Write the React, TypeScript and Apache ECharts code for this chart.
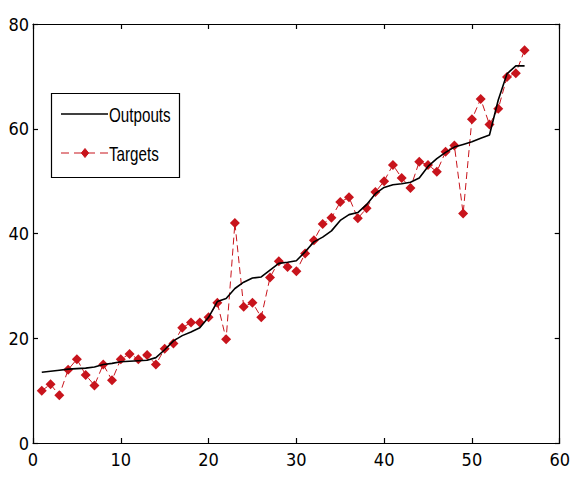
import React, { useEffect, useRef } from "react";
import * as echarts from "echarts";

const xs = Array.from({ length: 56 }, (_, i) => i + 1);
const outputs = [
  13.5, 13.7, 13.9, 14.1, 14.2, 14.3, 14.5, 15.0, 15.2, 15.5,
  15.6, 15.7, 15.8, 16.3, 17.8, 19.5, 20.5, 21.2, 22.0, 24.0,
  27.0, 27.6, 29.5, 30.7, 31.5, 31.7, 33.0, 34.3, 34.5, 34.8,
  36.5, 38.4, 39.3, 40.5, 42.5, 43.6, 44.0, 45.5, 47.6, 48.8,
  49.3, 49.5, 49.8, 50.6, 52.8, 54.3, 55.5, 56.5, 57.0, 57.5,
  58.2, 58.8, 65.5, 70.5, 72.0, 72.0,
];
const targets = [
  10, 11.2, 9.1, 14, 16, 13, 11, 15, 12, 16,
  17, 16, 16.8, 15, 18, 19, 22, 23, 23, 24,
  26.8, 19.8, 42.0, 26, 26.8, 24, 31.6, 34.7, 33.6, 32.8,
  36.2, 38.7, 41.8, 43.0, 46.0, 46.9, 42.9, 44.8, 47.9, 50.0,
  53.1, 50.6, 48.7, 53.7, 53.1, 51.8, 55.6, 56.8, 43.8, 61.8,
  65.7, 60.8, 63.8, 69.9, 70.6, 75.0,
];
const seriesNames = ["Outpouts", "Targets"];

const FONT = "'DejaVu Sans Condensed', 'Liberation Sans Narrow', 'Liberation Sans', sans-serif";
const RED = "#c8141c";

export default function App() {
  const ref = useRef<HTMLDivElement>(null);
  useEffect(() => {
    if (!ref.current) return;
    const chart = echarts.init(ref.current, undefined, { renderer: "svg" });
    const axisLine = { show: true, onZero: false, lineStyle: { color: "#000", width: 1.2 } };
    const tickIn = { show: true, inside: true, length: 5, lineStyle: { color: "#000", width: 1.2 } };
    const label = { color: "#000", fontFamily: FONT, fontSize: 18 };
    const legendText = {
      fill: "#000",
      fontFamily: "'Liberation Sans', sans-serif",
      fontSize: 20,
      verticalAlign: "middle",
      align: "left",
    };
    const diamond = (cx: number, cy: number, r: number) => [
      [cx, cy - r], [cx + r * 0.8, cy], [cx, cy + r], [cx - r * 0.8, cy],
    ];
    chart.setOption({
      animation: false,
      backgroundColor: "#fff",
      grid: { left: 33, right: 8, top: 24, bottom: 34, containLabel: false },
      xAxis: [
        {
          type: "value", min: 0, max: 60, interval: 10, position: "bottom",
          axisLine, axisTick: tickIn, splitLine: { show: false },
          axisLabel: { ...label, margin: 7 },
        },
        {
          type: "value", min: 0, max: 60, interval: 10, position: "top",
          axisLine, axisTick: tickIn, splitLine: { show: false },
          axisLabel: { show: false },
        },
      ],
      yAxis: [
        {
          type: "value", min: 0, max: 80, interval: 20, position: "left",
          axisLine, axisTick: tickIn, splitLine: { show: false },
          axisLabel: { ...label, margin: 4 },
        },
        {
          type: "value", min: 0, max: 80, interval: 20, position: "right",
          axisLine, axisTick: tickIn, splitLine: { show: false },
          axisLabel: { show: false },
        },
      ],
      graphic: [
        {
          type: "group",
          z: 100,
          children: [
            {
              type: "rect",
              shape: { x: 51.5, y: 93.5, width: 128, height: 84 },
              style: { fill: "#fff", stroke: "#000", lineWidth: 1.2 },
            },
            {
              type: "line",
              shape: { x1: 61, y1: 114, x2: 108, y2: 114 },
              style: { stroke: "#000", lineWidth: 1.6 },
            },
            {
              type: "text",
              x: 109, y: 115, scaleX: 0.76,
              style: { ...legendText, text: seriesNames[0] },
            },
            {
              type: "line",
              shape: { x1: 61, y1: 153, x2: 108, y2: 153 },
              style: { stroke: RED, lineWidth: 1.2, lineDash: [8, 5] },
            },
            {
              type: "polygon",
              shape: { points: diamond(85, 153, 4.5) },
              style: { fill: RED, stroke: RED },
            },
            {
              type: "text",
              x: 109, y: 154, scaleX: 0.76,
              style: { ...legendText, text: seriesNames[1] },
            },
          ],
        },
      ],
      series: [
        {
          name: seriesNames[0],
          type: "line",
          data: xs.map((x, i) => [x, outputs[i]]),
          showSymbol: false,
          symbol: "none",
          lineStyle: { color: "#000", width: 1.6 },
          itemStyle: { color: "#000" },
          z: 3,
        },
        {
          name: seriesNames[1],
          type: "line",
          data: xs.map((x, i) => [x, targets[i]]),
          symbol: "diamond",
          symbolSize: 10,
          lineStyle: { color: RED, width: 1, type: [7, 4] },
          itemStyle: { color: RED },
          z: 2,
        },
      ],
    });
    return () => chart.dispose();
  }, []);
  return (
    <div
      ref={ref}
      style={{ position: "fixed", left: 0, top: 0, width: 573, height: 477, background: "#fff" }}
    />
  );
}
